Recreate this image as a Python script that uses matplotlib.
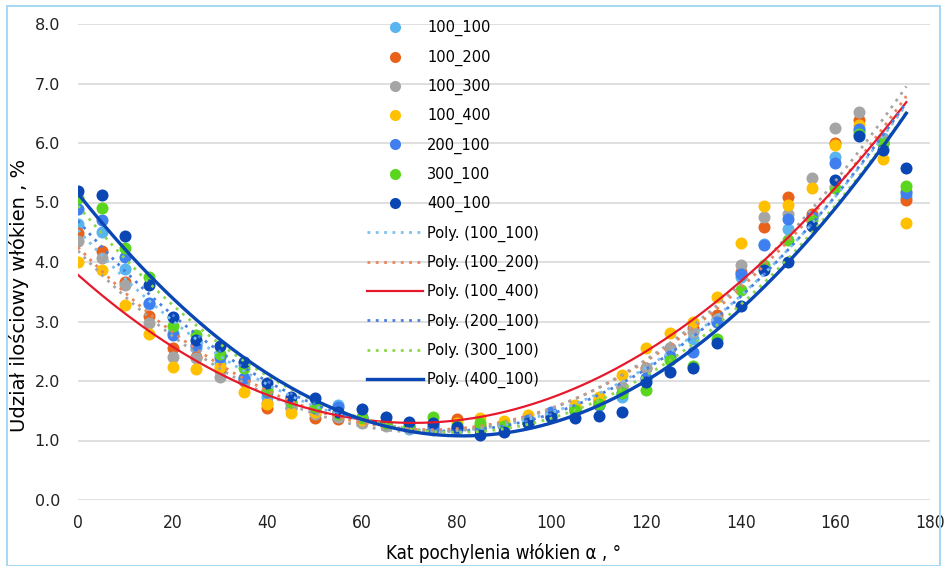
import matplotlib
matplotlib.use("Agg")
import matplotlib.pyplot as plt
from matplotlib.lines import Line2D
from matplotlib.patches import Rectangle
import numpy as np

# kat pochylenia (deg)
angle = np.arange(0, 180, 5)

s100_100 = [4.64, 4.51, 3.88, 3.30, 2.80, 2.55, 2.30, 2.05, 1.73, 1.62, 1.52, 1.60,
            1.38, 1.30, 1.20, 1.22, 1.20, 1.22, 1.25, 1.32, 1.45, 1.55, 1.65, 1.73,
            2.05, 2.40, 2.70, 2.99, 3.75, 4.30, 4.55, 4.76, 5.76, 6.20, 6.08, 5.10]
s100_200 = [4.49, 4.19, 3.67, 3.09, 2.55, 2.41, 2.19, 2.00, 1.55, 1.55, 1.38, 1.36,
            1.31, 1.28, 1.22, 1.25, 1.36, 1.25, 1.22, 1.35, 1.45, 1.55, 1.68, 1.90,
            2.22, 2.55, 2.89, 3.11, 3.84, 4.59, 5.09, 4.80, 6.00, 6.39, 6.00, 5.04]
s100_300 = [4.35, 4.07, 3.61, 2.97, 2.41, 2.38, 2.07, 2.02, 1.63, 1.55, 1.45, 1.40,
            1.30, 1.25, 1.21, 1.18, 1.20, 1.20, 1.22, 1.30, 1.40, 1.50, 1.60, 1.90,
            2.22, 2.55, 2.83, 3.05, 3.95, 4.76, 4.80, 5.41, 6.25, 6.52, 6.05, 5.20]
s100_400 = [4.00, 3.87, 3.28, 2.79, 2.24, 2.20, 2.24, 1.82, 1.62, 1.46, 1.48, 1.48,
            1.35, 1.30, 1.25, 1.28, 1.30, 1.38, 1.33, 1.43, 1.45, 1.60, 1.73, 2.10,
            2.55, 2.81, 2.99, 3.41, 4.32, 4.94, 4.96, 5.24, 5.97, 6.30, 5.73, 4.66]
s200_100 = [4.89, 4.71, 4.08, 3.31, 2.77, 2.60, 2.41, 2.05, 1.81, 1.65, 1.55, 1.56,
            1.40, 1.30, 1.22, 1.20, 1.20, 1.20, 1.22, 1.35, 1.48, 1.50, 1.60, 1.80,
            2.05, 2.42, 2.49, 2.99, 3.80, 4.29, 4.72, 4.76, 5.66, 6.23, 6.00, 5.16]
s300_100 = [5.07, 4.90, 4.23, 3.75, 2.92, 2.77, 2.45, 2.22, 1.85, 1.65, 1.57, 1.45,
            1.38, 1.30, 1.28, 1.39, 1.25, 1.29, 1.25, 1.30, 1.40, 1.51, 1.62, 1.79,
            1.85, 2.35, 2.25, 2.70, 3.53, 3.95, 4.37, 4.70, 5.25, 6.15, 6.00, 5.27]
s400_100 = [5.20, 5.13, 4.44, 3.61, 3.07, 2.69, 2.59, 2.32, 1.97, 1.73, 1.71, 1.48,
            1.53, 1.39, 1.31, 1.29, 1.23, 1.09, 1.15, 1.30, 1.40, 1.38, 1.41, 1.48,
            1.98, 2.15, 2.22, 2.64, 3.26, 3.87, 4.00, 4.60, 5.38, 6.12, 5.88, 5.58]

names = ['100_100', '100_200', '100_300', '100_400', '200_100', '300_100', '400_100']
series = [s100_100, s100_200, s100_300, s100_400, s200_100, s300_100, s400_100]
dot_colors = ['#5ab4f0', '#e8621a', '#a5a5a5', '#ffc000', '#3f7ff0', '#5ad61e', '#0a47b5']

# trend styles (Excel poly order 2)
trend_colors = ['#7cc0ee', '#e8865a', '#a5a5a5', '#e8182c', '#4a7fe0', '#8ad84a', '#0a47b5']
dotted = (0, (1, 2))
trend_styles = [dotted, dotted, dotted, '-', dotted, dotted, '-']
trend_widths = [2.0, 2.0, 2.0, 1.6, 2.0, 2.0, 2.4]
trend_in_legend = [True, True, False, True, True, True, True]

plt.rcParams['font.family'] = ['DejaVu Sans']

fig = plt.figure(figsize=(9.47, 5.66), dpi=100)
ax = fig.add_axes([78/947, 1-500/566, 852/947, 476/566])

for y, c in zip(series, dot_colors):
    ax.scatter(angle, y, s=75, color=c, zorder=3, linewidths=0)

xs = np.linspace(0, 175, 200)
for y, c, ls, lw in zip(series, trend_colors, trend_styles, trend_widths):
    p = np.polyfit(angle, y, 2)
    ax.plot(xs, np.polyval(p, xs), color=c, linestyle=ls, linewidth=lw, zorder=4)

ax.set_xlim(0, 180)
ax.set_ylim(0, 8)
ax.set_xticks(np.arange(0, 181, 20))
ax.set_yticks(np.arange(0, 8.1, 1))
ax.set_yticklabels([f"{v:.1f}" for v in np.arange(0, 8.1, 1)])
ax.grid(axis='y', color='#d9d9d9', linewidth=1.2)
ax.set_axisbelow(True)
for sp in ax.spines.values():
    sp.set_visible(False)
ax.tick_params(length=0, labelsize=11.5, colors='#222222')
ax.tick_params(axis='x', pad=10)
ax.tick_params(axis='y', pad=13)
for lab in ax.get_xticklabels():
    lab.set_fontstretch('condensed')
    lab.set_fontsize(12.5)

ax.set_ylabel('Udział ilościowy włókien , %', fontsize=14)
ax.yaxis.set_label_coords(-0.057, 0.43)
ax.set_xlabel('Kat pochylenia włókien α , °', fontsize=13.5, labelpad=8,
              fontstretch='condensed')

handles = []
labels = []
for n, c in zip(names, dot_colors):
    handles.append(Line2D([], [], linestyle='none', marker='o', markersize=8,
                          markerfacecolor=c, markeredgewidth=0))
    labels.append(n)
for n, c, ls, lw, show in zip(names, trend_colors, trend_styles, trend_widths, trend_in_legend):
    if show:
        handles.append(Line2D([], [], color=c, linestyle=ls, linewidth=lw))
        labels.append(f"Poly. ({n})")

fig.legend(handles, labels, loc='upper left', bbox_to_anchor=(360/947, 1-13/566),
           frameon=False, fontsize=10.5, labelspacing=0.9, handlelength=3.8,
           handletextpad=0.3, borderpad=0)

fig.add_artist(Rectangle((7/947, 0.0), 933/947, 1-6/566, transform=fig.transFigure,
                         fill=False, edgecolor='#a9d8f2', linewidth=1.5))

fig.savefig('out.png', dpi=100)
